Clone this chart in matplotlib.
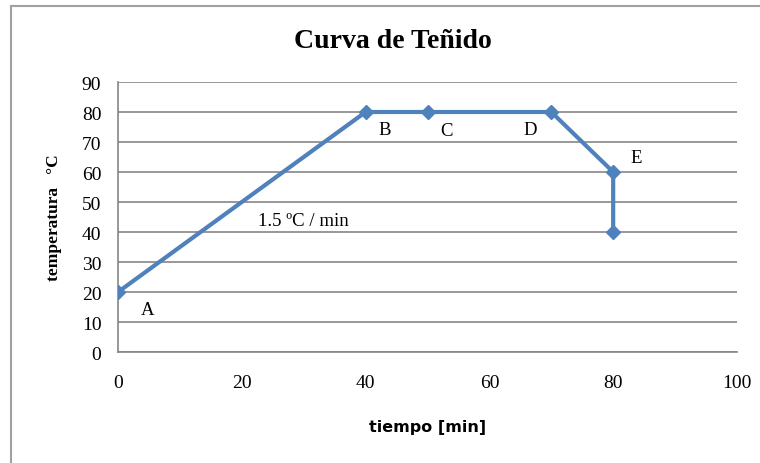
import matplotlib
matplotlib.use("Agg")
import matplotlib.pyplot as plt
from matplotlib.lines import Line2D

# datos de la curva
tiempo = [0, 40, 50, 70, 80, 80]
temperatura = [20, 80, 80, 80, 60, 40]

puntos = ["A", "B", "C", "D", "E"]
pos_x = [4.8, 43.1, 53.0, 66.6, 83.8]
pos_y = [14.3, 74.3, 74.0, 74.3, 65.0]

x_ticks = [0, 20, 40, 60, 80, 100]
y_ticks = [0, 10, 20, 30, 40, 50, 60, 70, 80, 90]

azul = "#4F81BD"
gris = "#868686"
serif = "Liberation Serif"

fig = plt.figure(figsize=(7.6, 4.64), dpi=100)
ax = fig.add_axes([0.1553, 0.2392, 0.8144, 0.5819])

ax.plot(tiempo, temperatura, color=azul, lw=3, marker="D", ms=7,
        mfc=azul, mec=azul, zorder=3)

for p, x, y in zip(puntos, pos_x, pos_y):
    ax.text(x, y, p, fontsize=13.5, family=serif, ha="center", va="center")
ax.text(29.9, 43.7, "1.5 ºC / min", fontsize=13.5, family=serif,
        ha="center", va="center")

ax.set_xlim(0, 100)
ax.set_ylim(0, 90)
ax.set_xticks(x_ticks)
ax.set_yticks(y_ticks)
ax.yaxis.grid(True, color=gris, lw=1.2)
ax.set_axisbelow(True)
for s in ["top", "right"]:
    ax.spines[s].set_visible(False)
for s in ["left", "bottom"]:
    ax.spines[s].set_color(gris)
    ax.spines[s].set_linewidth(1.2)
ax.tick_params(axis="x", length=0, pad=16)
ax.tick_params(axis="y", length=0, pad=12)
for lbl in ax.get_xticklabels() + ax.get_yticklabels():
    lbl.set_family(serif)
    lbl.set_fontsize(14)

ax.set_xlabel("tiempo [min]", fontsize=11.5, fontweight="bold",
              family="DejaVu Sans", labelpad=20)
ax.set_ylabel("temperatura   °C", fontsize=12.5, fontweight="bold",
              family=serif, labelpad=14)

fig.text(0.517, 0.91, "Curva de Teñido", fontsize=20, fontweight="bold",
         family=serif, ha="center", va="center")

# marco del gráfico (solo arriba e izquierda visibles)
fig.add_artist(Line2D([11 / 760, 11 / 760], [0, 1 - 7 / 464],
                      color="#a0a0a0", lw=1.5, transform=fig.transFigure))
fig.add_artist(Line2D([11 / 760, 1], [1 - 7 / 464, 1 - 7 / 464],
                      color="#a0a0a0", lw=1.5, transform=fig.transFigure))

fig.savefig("out.png", dpi=100)
